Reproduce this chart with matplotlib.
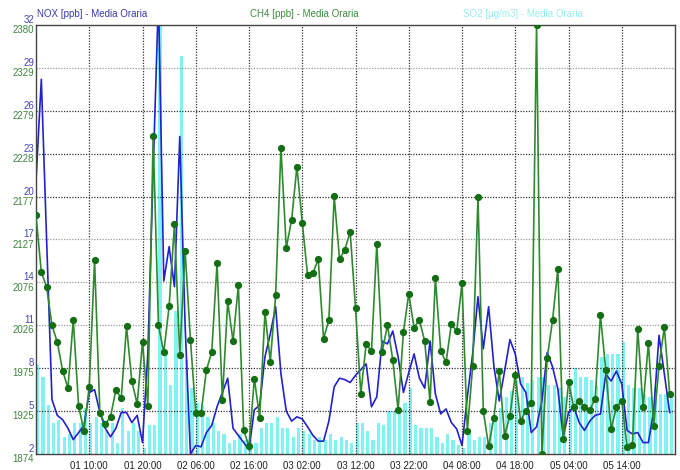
import numpy as np
import matplotlib
matplotlib.use("Agg")
import matplotlib.pyplot as plt
from matplotlib import transforms

plt.rcParams["font.family"] = ["Liberation Sans", "DejaVu Sans"]

# Hourly averages starting at day 01 00:00
nox = [21.1, 28.2, 16.9, 5.8, 4.7, 4.4, 3.8, 3.0, 3.5, 4.0,
       6.3, 6.5, 4.9, 3.8, 3.2, 3.8, 4.9, 4.9, 4.2, 4.7,
       2.8, 9.0, 21.8, 34.0, 14.1, 16.5, 13.7, 24.2, 11.0, 2.0,
       2.6, 2.5, 3.5, 4.0, 5.3, 6.3, 7.3, 3.8, 3.3, 2.8,
       2.3, 5.1, 5.4, 8.8, 10.4, 12.3, 7.6, 5.0, 4.3, 4.6,
       4.45, 3.9, 3.3, 2.9, 2.9, 4.3, 6.7, 7.3, 7.2, 7.0,
       7.5, 7.9, 8.3, 5.3, 6.0, 9.9, 9.7, 10.6, 8.8, 6.3,
       7.7, 9.0, 7.3, 6.6, 9.9, 6.2, 4.8, 5.15, 4.2, 3.75,
       2.6, 6.0, 9.0, 13.0, 9.35, 12.3, 8.1, 5.7, 7.8, 10.0,
       9.0, 6.9, 6.3, 3.5, 3.9, 5.7, 9.1, 8.1, 6.55, 3.2,
       4.9, 5.3, 4.2, 3.65, 4.3, 4.7, 4.8, 7.6, 7.1, 7.8,
       6.9, 3.65, 3.4, 3.5, 2.8, 2.8, 5.0, 10.3, 7.6, 4.9]

ch4 = [2155.6, 2088.6, 2071.0, 2025.6, 2006.0, 1972.4, 1951.6, 2032.3, 1930.3, 1901.5,
       1953.5, 2102.4, 1922.0, 1909.4, 1918.0, 1949.6, 1939.7, 2024.4, 1959.8, 1933.0,
       2006.0, 1931.0, 2249.0, 2025.6, 1994.0, 2048.0, 2145.0, 1991.0, 2114.0, 2009.0,
       1922.0, 1922.0, 1973.0, 1994.0, 2099.0, 1938.0, 2054.0, 2007.0, 2073.0, 1902.0,
       1883.0, 1963.0, 1917.0, 2041.0, 1983.0, 2061.0, 2235.0, 2117.0, 2150.0, 2213.0,
       2147.0, 2085.0, 2087.0, 2104.0, 2010.0, 2032.0, 2178.0, 2104.0, 2115.0, 2136.0,
       2046.5, 1945.0, 2004.0, 1995.0, 2122.0, 1994.0, 2026.0, 1985.0, 1926.0, 2018.0,
       2063.0, 2023.0, 2032.0, 2007.0, 1935.0, 2081.5, 1996.0, 1982.0, 2027.5, 2018.5,
       2076.0, 1901.0, 1977.5, 2177.0, 1925.0, 1883.0, 1917.0, 1972.4, 1895.6, 1919.0,
       1967.0, 1913.0, 1925.0, 1933.6, 2380.0, 1874.0, 1987.4, 2031.5, 2092.5, 1891.7,
       1958.6, 1929.0, 1937.0, 1929.0, 1926.0, 1939.0, 2037.4, 1973.0, 1903.5, 1929.0,
       1937.0, 1882.0, 1885.0, 2021.6, 1929.0, 2005.0, 1907.4, 1978.3, 2023.6, 1945.0]

so2 = [3.1, 2.7, 1.7, 1.1, 1.2, 0.6, 0.7, 1.1, 1.1, 1.6,
       1.1, 1.3, 1.1, 0.8, 1.1, 0.4, 1.6, 0.8, 1.1, 0.8,
       0.2, 1.0, 1.0, 16.0, 3.5, 2.4, 5.0, 13.9, 3.3, 2.3,
       1.8, 1.7, 1.3, 1.1, 0.8, 0.7, 0.4, 0.5, 0.7, 0.5,
       0.5, 0.4, 0.9, 1.1, 1.1, 1.3, 0.9, 0.9, 0.6, 0.9,
       0.8, 0.7, 0.5, 0.6, 0.5, 0.7, 0.5, 0.6, 0.5, 0.4,
       1.1, 1.1, 0.8, 0.5, 1.1, 1.0, 1.5, 1.5, 1.5, 1.8,
       2.3, 1.0, 0.9, 0.9, 0.9, 0.6, 0.4, 0.7, 0.5, 0.3,
       0.2, 0.7, 0.5, 0.6, 0.6, 1.1, 1.2, 1.6, 2.0, 2.2,
       2.6, 2.7, 2.5, 2.6, 2.7, 2.7, 2.4, 2.4, 2.3, 2.0,
       2.6, 3.0, 2.7, 2.7, 2.6, 2.4, 3.4, 3.5, 3.5, 3.5,
       3.9, 2.4, 2.3, 2.3, 2.1, 2.0, 2.3, 2.1, 2.1, 2.0]

tick_hours = [10, 20, 30, 40, 50, 60, 70, 80, 90, 100, 110]
tick_labels = ["01 10:00", "01 20:00", "02 06:00", "02 16:00", "03 02:00",
               "03 12:00", "03 22:00", "04 08:00", "04 18:00", "05 04:00",
               "05 14:00"]
nox_ticks = [2, 5, 8, 11, 14, 17, 20, 23, 26, 29, 32]
ch4_ticks = [1874, 1925, 1975, 2026, 2076, 2127, 2177, 2228, 2279, 2329, 2380]

hours = np.arange(len(nox))

C_NOX = "#2222cc"
C_CH4 = "#2f8a2f"
C_CH4_MK = "#146e14"
C_SO2 = "#80f2f2"

fig = plt.figure(figsize=(6.8, 4.7), dpi=100)
rect = [36 / 680, 1 - 454 / 470, 639 / 680, 429 / 470]

ax_so2 = fig.add_axes(rect, zorder=1)
ax_nox = fig.add_axes(rect, zorder=2, sharex=ax_so2)
ax_ch4 = fig.add_axes(rect, zorder=3, sharex=ax_so2)
for a in (ax_nox, ax_ch4):
    a.patch.set_visible(False)
for a in (ax_so2, ax_nox):
    for s in a.spines.values():
        s.set_visible(False)
for s in ax_ch4.spines.values():
    s.set_color("#444444")
    s.set_linewidth(1.0)

# SO2 bars
ax_so2.bar(hours, so2, width=0.6, align="edge", color=C_SO2, linewidth=0)
ax_so2.set_ylim(0, 15)
ax_so2.set_xlim(0, 120)

# Grid (drawn above the bars, below the lines)
dot = (0, (1.0, 1.2))
for t in tick_hours:
    ax_nox.axvline(t, color="#333333", lw=0.9, ls=dot, zorder=0)
light = {29, 17, 14, 11}
for v in nox_ticks[1:-1]:
    ax_nox.axhline(v, color="#9a9a9a" if v in light else "#333333",
                   lw=0.9, ls=dot, zorder=0)

# NOX line
ax_nox.plot(hours, nox, color=C_NOX, lw=1.2, zorder=2)
ax_nox.set_ylim(2, 32)

# CH4 line with markers
ax_ch4.plot(hours, ch4, color=C_CH4, lw=1.2, marker="o", markersize=4.2,
            markerfacecolor=C_CH4_MK, markeredgecolor=C_CH4_MK, zorder=3)
ax_ch4.set_ylim(1874, 2380)

for a in (ax_so2, ax_nox, ax_ch4):
    a.set_yticks([])
    a.tick_params(axis="x", length=0)
for a in (ax_so2, ax_nox):
    a.tick_params(axis="x", labelbottom=False)
ax_ch4.set_xticks(tick_hours, tick_labels)
ax_ch4.tick_params(axis="x", labelsize=7, labelcolor="#222222", pad=5)

# Left-side value labels: NOX above each grid line, CH4 below
up = transforms.ScaledTranslation(0, 5 / 100, fig.dpi_scale_trans)
down = transforms.ScaledTranslation(0, -5 / 100, fig.dpi_scale_trans)
tr_nox = transforms.blended_transform_factory(ax_nox.transAxes, ax_nox.transData)
tr_ch4 = transforms.blended_transform_factory(ax_ch4.transAxes, ax_ch4.transData)
for v in nox_ticks:
    ax_nox.text(-0.003, v, str(v), transform=tr_nox + up, ha="right",
                va="center", fontsize=7, color="#4646b4", clip_on=False)
for v in ch4_ticks:
    ax_ch4.text(-0.003, v, str(v), transform=tr_ch4 + down, ha="right",
                va="center", fontsize=7, color="#3f853f", clip_on=False)

# Series headers
fig.text(37 / 680, 1 - 14 / 470, "NOX [ppb] - Media Oraria", fontsize=7,
         color="#3a3ab0", ha="left", va="center")
fig.text(250 / 680, 1 - 14 / 470, "CH4 [ppb] - Media Oraria", fontsize=7,
         color="#3b8b3b", ha="left", va="center")
fig.text(463 / 680, 1 - 14 / 470, "SO2 [µg/m3] - Media Oraria", fontsize=7,
         color="#95eeee", ha="left", va="center")

fig.savefig("out.png", dpi=100)
